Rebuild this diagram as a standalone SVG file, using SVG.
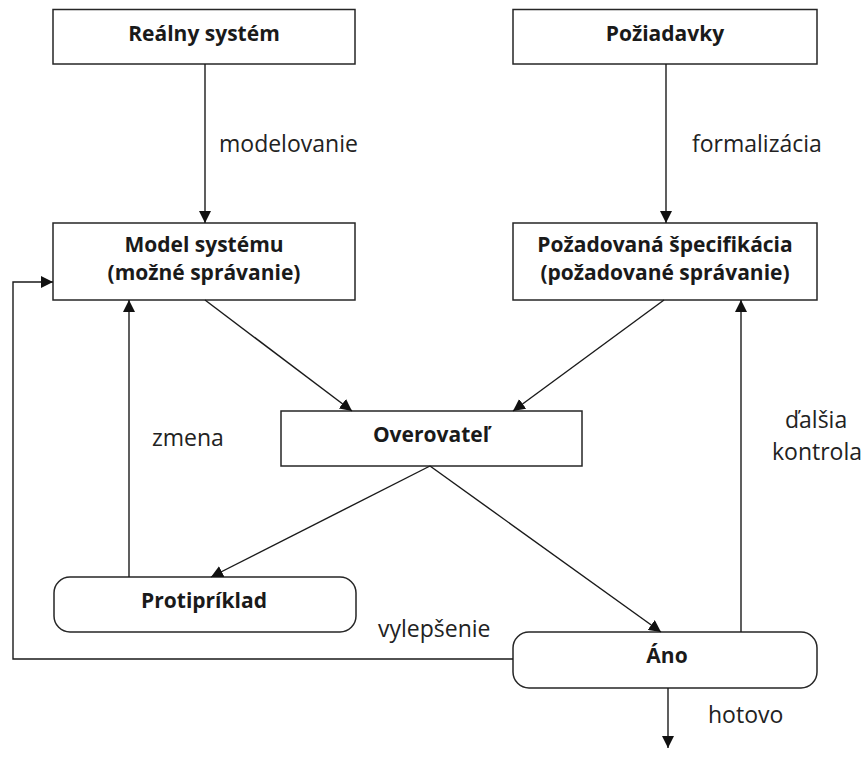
<svg xmlns="http://www.w3.org/2000/svg" width="868" height="758" viewBox="0 0 868 758">
  <style>
    .box { fill: #ffffff; stroke: #262626; stroke-width: 1.5; }
    .title { font-family: "Open Sans", "Liberation Sans", sans-serif; font-weight: bold; font-size: 21px; fill: #1a1a1a; text-anchor: middle; }
    .label { font-family: "Open Sans", "Liberation Sans", sans-serif; font-size: 23px; fill: #222222; }
    .edge { fill: none; stroke: #1a1a1a; stroke-width: 1.4; marker-end: url(#arrow); }
    .line { fill: none; stroke: #1a1a1a; stroke-width: 1.4; }
  </style>
  <defs>
    <marker id="arrow" markerUnits="userSpaceOnUse" markerWidth="12" markerHeight="12" viewBox="0 0 12 12" refX="12" refY="6" orient="auto">
      <path d="M0,0 L12,6 L0,12 z" fill="#111111"/>
    </marker>
  </defs>
  <rect width="868" height="758" fill="#ffffff"/>

  <!-- nodes -->
  <g id="realny-system">
    <rect class="box" x="53" y="9.5" width="302" height="54.5"/>
    <text class="title" x="204" y="41">Reálny systém</text>
  </g>
  <g id="poziadavky">
    <rect class="box" x="513" y="9.5" width="304" height="54.5"/>
    <text class="title" x="665" y="41">Požiadavky</text>
  </g>
  <g id="model-systemu">
    <rect class="box" x="53" y="223" width="302" height="77"/>
    <text class="title" x="204" y="252">Model systému</text>
    <text class="title" x="204" y="280">(možné správanie)</text>
  </g>
  <g id="specifikacia">
    <rect class="box" x="513" y="223" width="304" height="77"/>
    <text class="title" x="665" y="252">Požadovaná špecifikácia</text>
    <text class="title" x="665" y="280">(požadované správanie)</text>
  </g>
  <g id="overovatel">
    <rect class="box" x="281" y="411" width="301" height="55"/>
    <text class="title" x="431" y="442">Overovateľ</text>
  </g>
  <g id="protipriklad">
    <rect class="box" x="54" y="577" width="302" height="55" rx="16" ry="16"/>
    <text class="title" x="204" y="608">Protipríklad</text>
  </g>
  <g id="ano">
    <rect class="box" x="513" y="632" width="304" height="56" rx="16" ry="16"/>
    <text class="title" x="667" y="663">Áno</text>
  </g>

  <!-- connectors -->
  <g id="connectors">
    <path class="edge" d="M205,64 L205,223"/>
    <path class="edge" d="M666,64 L666,223"/>
    <path class="edge" d="M205,300 L352,411"/>
    <path class="edge" d="M664,300 L513,411"/>
    <path class="edge" d="M430,466 L211,577"/>
    <path class="edge" d="M430,466 L661,632"/>
    <path class="edge" d="M129,577 L129,300"/>
    <path class="edge" d="M741,632 L741,300"/>
    <path class="edge" d="M513,659 L13,659 L13,282 L53,282"/>
    <path class="edge" d="M668,688 L668,748"/>
  </g>

  <!-- connector labels -->
  <g id="labels">
    <text class="label" x="219" y="152">modelovanie</text>
    <text class="label" x="692" y="152">formalizácia</text>
    <text class="label" x="152" y="446">zmena</text>
    <text class="label" x="785" y="428">ďalšia</text>
    <text class="label" x="772" y="460">kontrola</text>
    <text class="label" x="378" y="637">vylepšenie</text>
    <text class="label" x="708" y="723">hotovo</text>
  </g>
</svg>
